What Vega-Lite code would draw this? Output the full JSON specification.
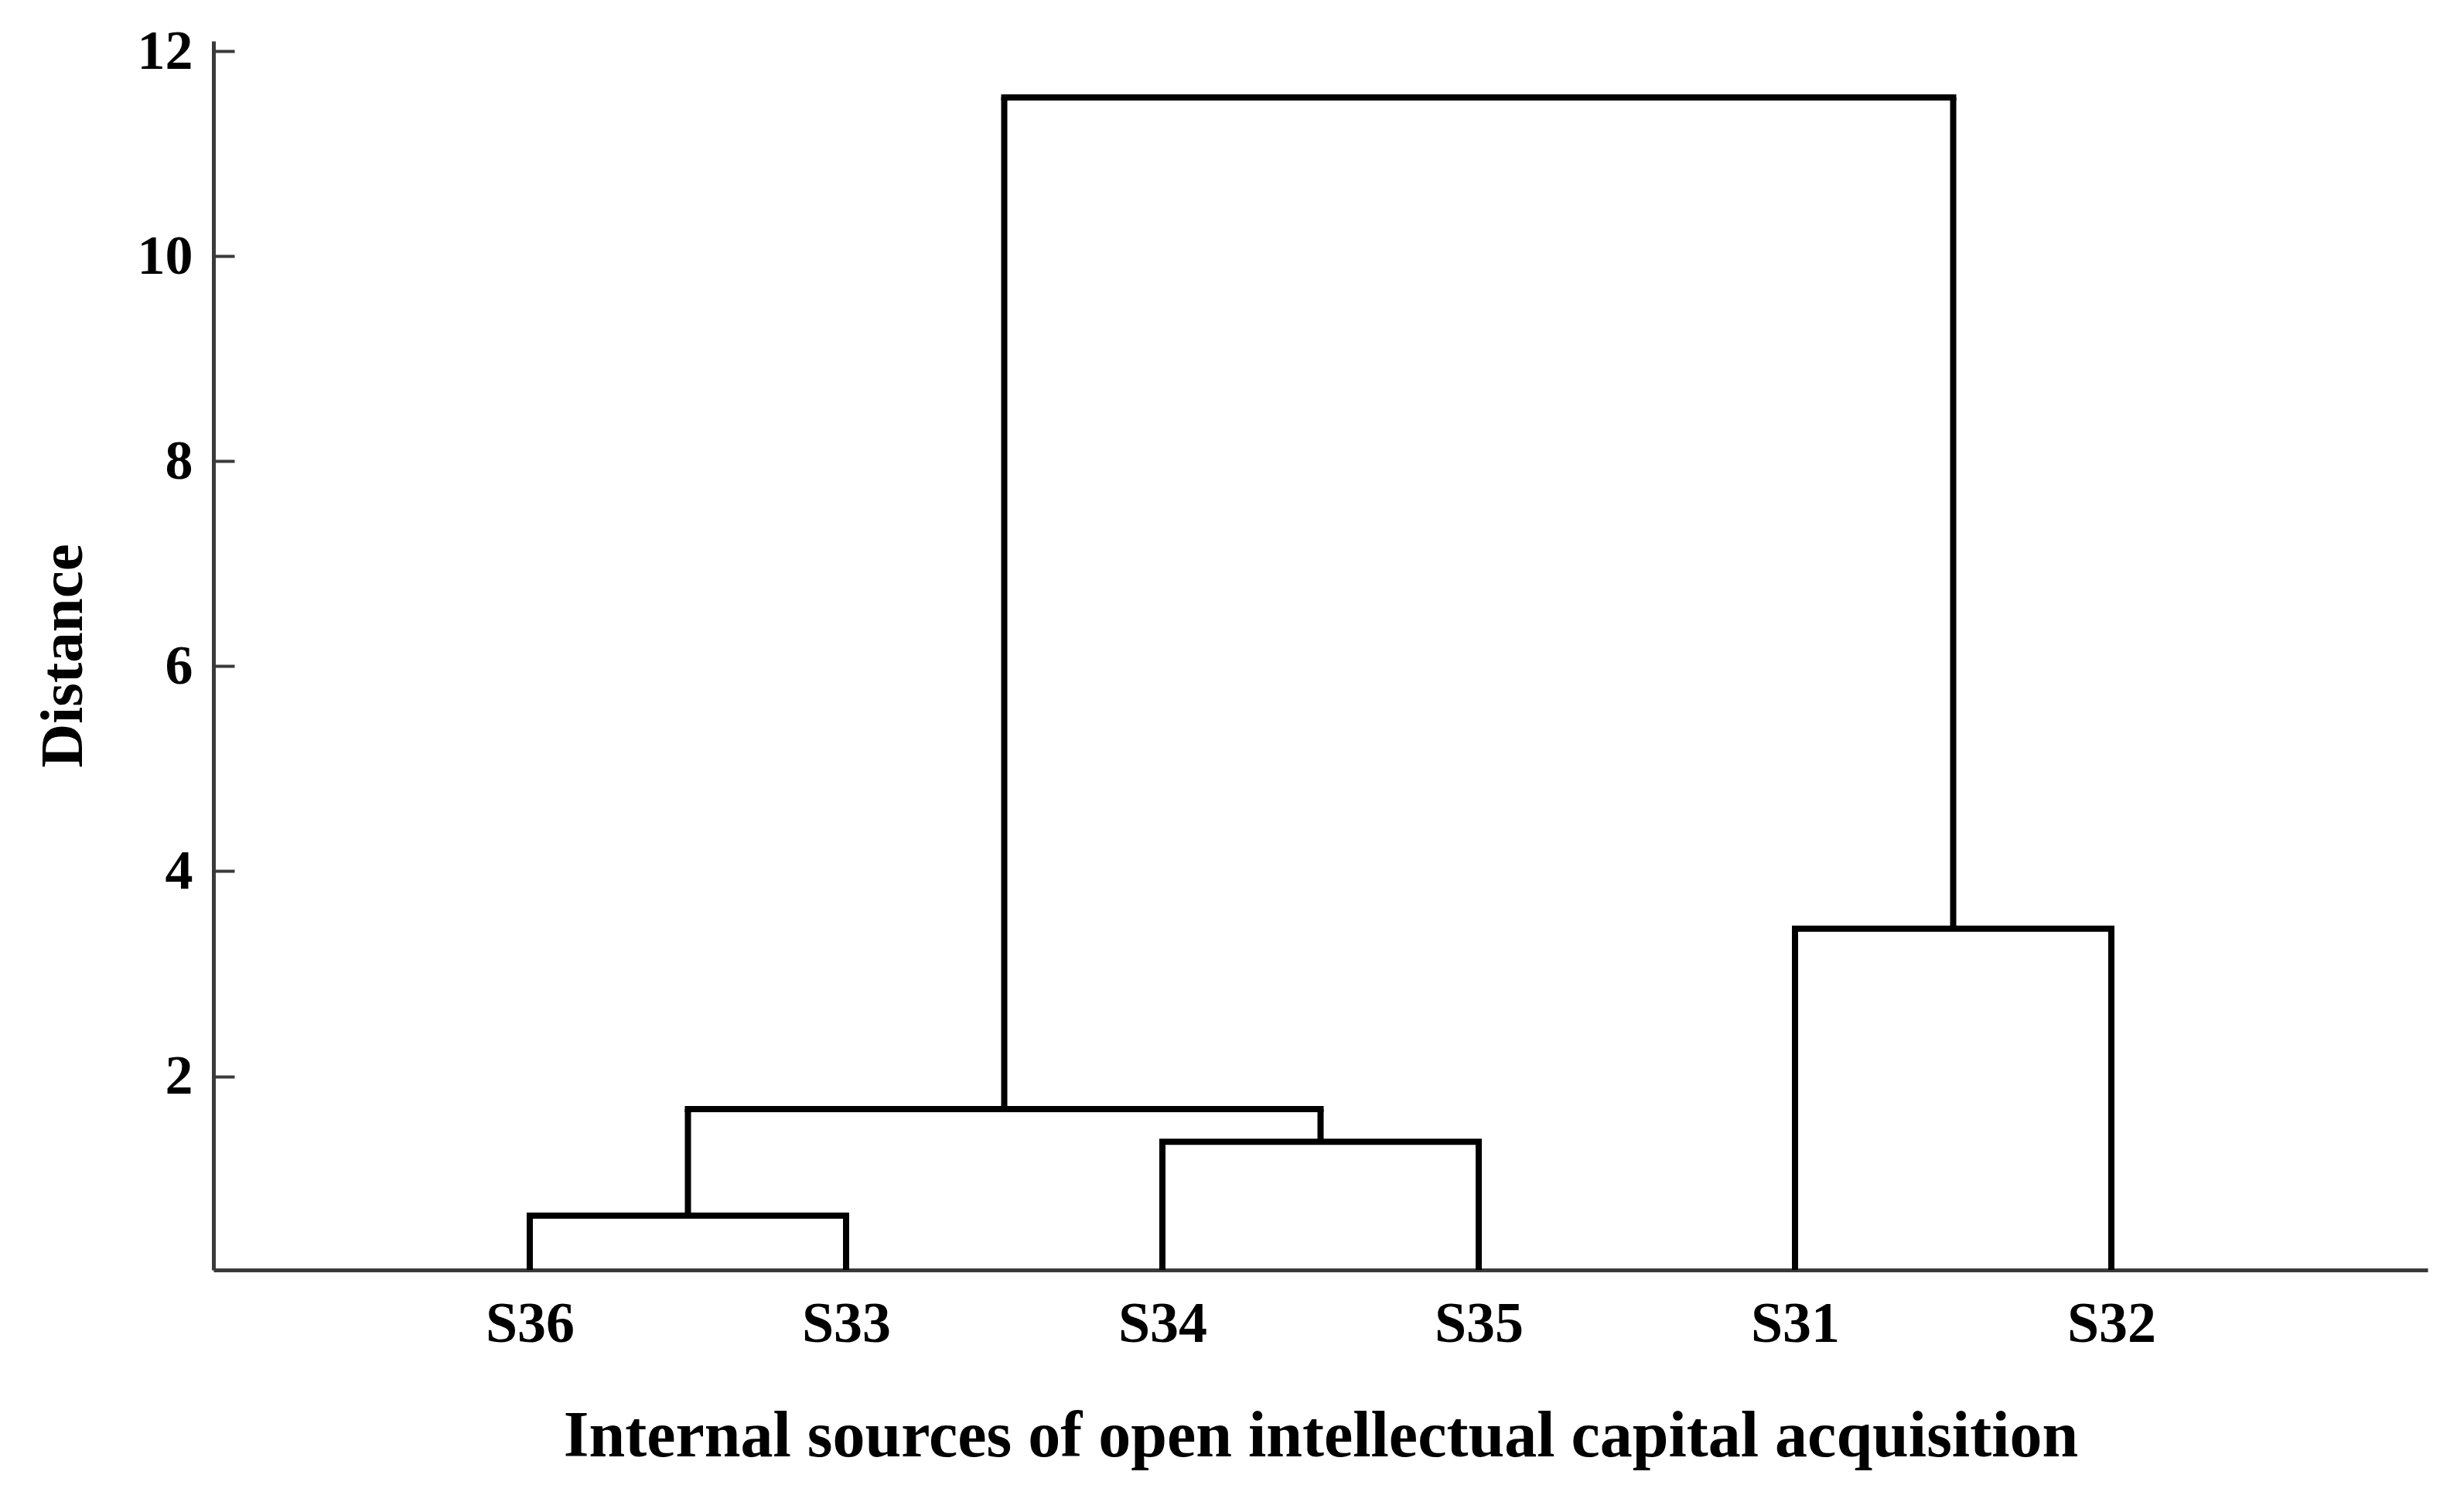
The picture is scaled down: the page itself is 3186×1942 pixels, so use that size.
{
  "$schema": "https://vega.github.io/schema/vega-lite/v6.json",
  "width": 2863,
  "height": 1589,
  "autosize": {"type": "none"},
  "padding": {"left": 276, "top": 53, "right": 47, "bottom": 300},
  "background": "white",
  "config": {"view": {"stroke": null}, "font": "Liberation Serif"},
  "data": {
    "values": [
      {"kind": "v", "x": 1, "y": 0, "y2": 0.64},
      {"kind": "v", "x": 2, "y": 0, "y2": 0.64},
      {"kind": "v", "x": 3, "y": 0, "y2": 1.36},
      {"kind": "v", "x": 4, "y": 0, "y2": 1.36},
      {"kind": "v", "x": 1.5, "y": 0.64, "y2": 1.68},
      {"kind": "v", "x": 3.5, "y": 1.36, "y2": 1.68},
      {"kind": "v", "x": 5, "y": 0, "y2": 3.44},
      {"kind": "v", "x": 6, "y": 0, "y2": 3.44},
      {"kind": "v", "x": 2.5, "y": 1.68, "y2": 11.55},
      {"kind": "v", "x": 5.5, "y": 3.44, "y2": 11.55},
      {"kind": "h", "x": 1, "x2": 2, "y": 0.64},
      {"kind": "h", "x": 3, "x2": 4, "y": 1.36},
      {"kind": "h", "x": 1.5, "x2": 3.5, "y": 1.68},
      {"kind": "h", "x": 5, "x2": 6, "y": 3.44},
      {"kind": "h", "x": 2.5, "x2": 5.5, "y": 11.55}
    ]
  },
  "encoding": {
    "x": {
      "field": "x",
      "type": "quantitative",
      "scale": {"domain": [0, 7], "nice": false, "zero": false},
      "axis": {
        "values": [1, 2, 3, 4, 5, 6],
        "labelExpr": "['','S36','S33','S34','S35','S31','S32'][datum.value]",
        "ticks": false,
        "grid": false,
        "domainColor": "#3a3a3a",
        "domainWidth": 5,
        "labelFont": "Liberation Serif",
        "labelFontWeight": "bold",
        "labelFontSize": 74,
        "labelColor": "black",
        "labelPadding": 34,
        "title": "Internal sources of open intellectual capital acquisition",
        "titleFont": "Liberation Serif",
        "titleFontWeight": "bold",
        "titleFontSize": 84,
        "titleColor": "black",
        "titlePadding": 67
      }
    },
    "y": {
      "field": "y",
      "type": "quantitative",
      "scale": {"domain": [0.11, 12.1], "nice": false, "zero": false},
      "axis": {
        "values": [2, 4, 6, 8, 10, 12],
        "grid": false,
        "tickSize": -27,
        "tickColor": "#3a3a3a",
        "tickWidth": 4,
        "domainColor": "#3a3a3a",
        "domainWidth": 5,
        "labelFont": "Liberation Serif",
        "labelFontWeight": "bold",
        "labelFontSize": 72,
        "labelColor": "black",
        "labelPadding": 54,
        "title": "Distance",
        "titleFont": "Liberation Serif",
        "titleFontWeight": "bold",
        "titleFontSize": 79,
        "titleColor": "black",
        "titlePadding": 55
      }
    }
  },
  "layer": [
    {
      "transform": [{"filter": "datum.kind === 'v'"}],
      "mark": {"type": "rule", "color": "black", "strokeWidth": 8, "clip": true},
      "encoding": {"y2": {"field": "y2"}}
    },
    {
      "transform": [{"filter": "datum.kind === 'h'"}],
      "mark": {"type": "rule", "color": "black", "strokeWidth": 8, "strokeCap": "square"},
      "encoding": {"x2": {"field": "x2"}}
    }
  ]
}
